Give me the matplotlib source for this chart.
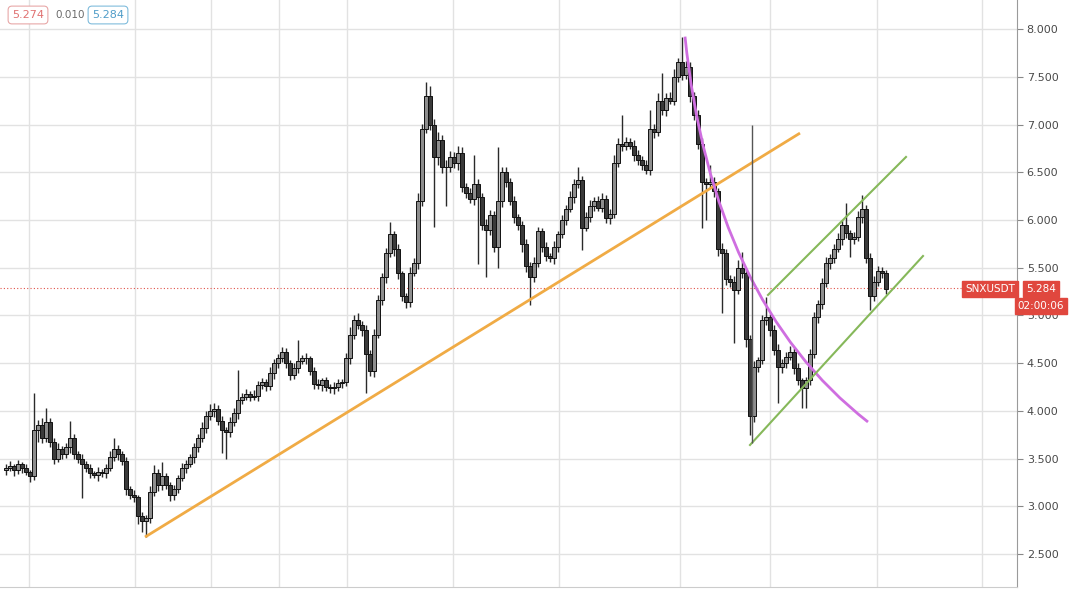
import matplotlib
matplotlib.use('Agg')
import matplotlib.pyplot as plt
import numpy as np
from matplotlib.path import Path
from matplotlib.patches import PathPatch

# цены закрытия свечей (SNXUSDT), слева направо
close = [
    3.40, 3.42, 3.38, 3.44, 3.40, 3.36, 3.32, 3.80, 3.85, 3.72,
    3.88, 3.68, 3.50, 3.60, 3.55, 3.62, 3.72, 3.55, 3.50, 3.45,
    3.40, 3.35, 3.33, 3.36, 3.35, 3.40, 3.52, 3.60, 3.55, 3.48,
    3.18, 3.12, 3.10, 2.90, 2.85, 2.88, 3.15, 3.35, 3.22, 3.32,
    3.22, 3.12, 3.18, 3.30, 3.40, 3.45, 3.52, 3.62, 3.72, 3.82,
    3.95, 4.00, 4.02, 3.90, 3.80, 3.78, 3.88, 3.98, 4.12, 4.15,
    4.18, 4.15, 4.16, 4.27, 4.30, 4.26, 4.40, 4.50, 4.55, 4.62,
    4.50, 4.38, 4.45, 4.52, 4.55, 4.55, 4.42, 4.28, 4.27, 4.32,
    4.25, 4.24, 4.25, 4.29, 4.30, 4.55, 4.80, 4.95, 4.90, 4.85,
    4.60, 4.42, 4.80, 5.16, 5.40, 5.65, 5.85, 5.70, 5.44, 5.20,
    5.14, 5.45, 5.55, 6.20, 6.95, 7.30, 7.00, 6.66, 6.84, 6.55,
    6.55, 6.66, 6.60, 6.70, 6.35, 6.28, 6.22, 6.38, 6.24, 5.95,
    5.90, 6.05, 5.72, 6.20, 6.50, 6.40, 6.20, 6.03, 5.95, 5.75,
    5.52, 5.40, 5.55, 5.88, 5.72, 5.62, 5.60, 5.72, 5.85, 6.00,
    6.12, 6.24, 6.38, 6.42, 5.92, 6.03, 6.15, 6.20, 6.13, 6.22,
    6.02, 6.06, 6.60, 6.80, 6.78, 6.82, 6.78, 6.68, 6.63, 6.58,
    6.52, 6.95, 6.92, 7.25, 7.15, 7.28, 7.25, 7.50, 7.65, 7.52,
    7.60, 7.30, 7.10, 6.80, 6.40, 6.38, 6.40, 6.30, 5.70, 5.65,
    5.38, 5.35, 5.27, 5.50, 5.45, 4.75, 3.95, 4.46, 4.53, 4.95,
    4.98, 4.85, 4.64, 4.46, 4.50, 4.57, 4.62, 4.45, 4.32, 4.24,
    4.32, 4.60, 4.98, 5.12, 5.34, 5.55, 5.60, 5.70, 5.80, 5.95,
    5.86, 5.80, 5.82, 6.03, 6.12, 5.60, 5.20, 5.35, 5.47, 5.45,
    5.28,
]
first_open = 3.38

# верхние и нижние тени, в сотых
wick_up = [
    4, 6, 3, 5, 3, 4, 2, 39, 6, 8,
    15, 5, 4, 6, 3, 5, 18, 4, 3, 5,
    3, 4, 2, 5, 3, 4, 6, 12, 4, 3,
    4, 3, 5, 2, 4, 3, 6, 8, 4, 15,
    3, 4, 5, 3, 6, 4, 3, 5, 4, 6,
    5, 7, 6, 4, 5, 3, 6, 5, 31, 4,
    5, 3, 6, 4, 5, 3, 6, 4, 5, 5,
    4, 3, 5, 22, 4, 6, 3, 4, 5, 3,
    4, 3, 5, 4, 3, 6, 8, 5, 8, 4,
    5, 4, 6, 5, 4, 6, 13, 4, 5, 3,
    4, 6, 5, 8, 6, 15, 10, 6, 8, 5,
    8, 6, 5, 7, 6, 4, 5, 30, 5, 4,
    6, 5, 4, 56, 5, 6, 4, 5, 3, 4,
    5, 4, 6, 5, 4, 5, 3, 6, 4, 5,
    4, 6, 5, 13, 4, 5, 6, 4, 5, 6,
    4, 5, 8, 6, 30, 5, 4, 6, 5, 4,
    5, 20, 6, 8, 29, 5, 6, 8, 5, 27,
    6, 5, 4, 5, 6, 4, 18, 5, 4, 6,
    5, 4, 6, 8, 16, 4, 5, 6, 4, 5,
    21, 4, 5, 6, 4, 5, 6, 4, 5, 3,
    4, 5, 6, 4, 5, 6, 4, 5, 6, 5,
    23, 4, 5, 6, 14, 4, 5, 6, 5, 4,
    3,
]
wick_dn = [
    5, 3, 6, 4, 5, 3, 6, 4, 12, 5,
    4, 6, 5, 3, 5, 4, 6, 5, 4, 36,
    4, 5, 3, 6, 4, 5, 3, 4, 6, 5,
    6, 4, 5, 8, 12, 17, 5, 4, 6, 5,
    4, 6, 5, 4, 3, 5, 4, 6, 5, 4,
    5, 4, 6, 5, 24, 28, 5, 4, 6, 5,
    4, 5, 3, 6, 4, 5, 4, 6, 5, 4,
    5, 6, 4, 5, 3, 6, 4, 5, 4, 6,
    4, 5, 6, 4, 5, 4, 6, 5, 4, 6,
    41, 5, 6, 4, 5, 6, 4, 8, 6, 5,
    6, 5, 4, 6, 5, 4, 6, 73, 8, 6,
    40, 5, 6, 8, 6, 5, 4, 6, 70, 5,
    50, 6, 5, 22, 6, 5, 4, 6, 5, 8,
    6, 29, 5, 4, 6, 5, 4, 6, 5, 4,
    5, 4, 6, 5, 23, 4, 5, 6, 4, 5,
    5, 6, 4, 5, 6, 5, 4, 6, 5, 6,
    4, 5, 6, 4, 5, 6, 4, 5, 6, 5,
    4, 6, 5, 6, 48, 38, 5, 6, 8, 62,
    6, 5, 56, 5, 6, 8, 20, 6, 5, 4,
    5, 6, 5, 38, 6, 5, 4, 6, 5, 21,
    21, 5, 4, 6, 5, 4, 6, 5, 4, 6,
    5, 19, 5, 4, 6, 5, 14, 5, 4, 6,
    5,
]

price_ticks = [2.5, 3.0, 3.5, 4.0, 4.5, 5.0, 5.5, 6.0, 6.5, 7.0, 7.5, 8.0]
grid_x = [5.75, 32.25, 51.25, 68.25, 85.25, 111.75, 138.25, 168.5, 191, 217.75, 244]
last_price = 5.284

# рисунки на графике (номер свечи, цена)
orange_x, orange_y = [34.75, 198.5], [2.68, 6.91]
curve_x, curve_y = [169.75, 176.5, 215.5], [7.92, 5.16, 3.885]
chan_up_x, chan_up_y = [190.5, 225.0], [5.215, 6.66]
chan_dn_x, chan_dn_y = [186.0, 229.25], [3.644, 5.623]
vline_x, vline_lo, vline_hi = 186.6, 3.66, 7.0

close = np.array(close)
opens = np.concatenate([[first_open], close[:-1]])
highs = np.maximum(opens, close) + np.array(wick_up) / 100
lows = np.minimum(opens, close) - np.array(wick_dn) / 100
xs = np.arange(len(close))

fig = plt.figure(figsize=(10.8, 5.89), dpi=100)
ax = fig.add_axes([0, 2 / 589, 1017 / 1080, 587 / 589])
ax.set_xlim(-1.5, 252.75)
ax.set_ylim(2.157, 8.3037)

# сетка
for g in grid_x:
    ax.axvline(g, color='#e2e2e2', lw=1, zorder=0)
for p in price_ticks:
    ax.axhline(p, color='#e2e2e2', lw=1, zorder=0)

# свечи
up = close >= opens
ax.vlines(xs, lows, highs, color='#2a2a2a', lw=1.0, zorder=2)
body_h = np.maximum(np.abs(close - opens), 0.01)
ax.bar(xs[up], body_h[up], bottom=np.minimum(opens, close)[up], width=0.8,
       color='#8e8e8e', edgecolor='#111111', linewidth=0.7, zorder=3)
ax.bar(xs[~up], body_h[~up], bottom=np.minimum(opens, close)[~up], width=0.8,
       color='#3a3a3a', edgecolor='#111111', linewidth=0.7, zorder=3)

# линии тренда
ax.plot(orange_x, orange_y, color='#f0ab45', lw=2, zorder=4, solid_capstyle='butt')
curve = Path(list(zip(curve_x, curve_y)), [Path.MOVETO, Path.CURVE3, Path.CURVE3])
ax.add_patch(PathPatch(curve, facecolor='none', edgecolor='#cf6ee0', lw=2, zorder=4))
ax.plot(chan_up_x, chan_up_y, color='#86b85a', lw=1.5, zorder=4)
ax.plot(chan_dn_x, chan_dn_y, color='#86b85a', lw=1.5, zorder=4)
ax.vlines(vline_x, vline_lo, vline_hi, color='#555555', lw=1, zorder=4)

# текущая цена
ax.plot([-1.5, 240], [last_price, last_price], color='#e0534a', lw=0.8,
        ls=(0, (1, 2)), zorder=1)

# ось цен справа
ax.yaxis.tick_right()
ax.set_yticks(price_ticks)
ax.set_yticklabels(['%.3f' % p for p in price_ticks])
ax.tick_params(axis='y', colors='#888888', labelcolor='#4a4a4a', labelsize=8,
               length=4, pad=3)
ax.set_xticks([])
for s in ['top', 'left']:
    ax.spines[s].set_visible(False)
ax.spines['right'].set_color('#9a9a9a')
ax.spines['bottom'].set_color('#cccccc')

# подписи в углу
box = dict(boxstyle='round,pad=0.35', facecolor='white', lw=0.8)
fig.text(28 / 1080, 1 - 15 / 589, '5.274', color='#e07070', fontsize=8, ha='center',
         va='center', bbox=dict(box, edgecolor='#e8a8a8'))
fig.text(70 / 1080, 1 - 15 / 589, '0.010', color='#6a6a6a', fontsize=7.5, ha='center',
         va='center')
fig.text(108 / 1080, 1 - 15 / 589, '5.284', color='#4f9cc8', fontsize=8, ha='center',
         va='center', bbox=dict(box, edgecolor='#80bcdc'))

# метки цены справа
red = dict(boxstyle='square,pad=0.3', facecolor='#e0473e', edgecolor='#e0473e')
fig.text(990 / 1080, 1 - 289 / 589, 'SNXUSDT', color='white', fontsize=7.5,
         ha='center', va='center', bbox=red, zorder=10)
fig.text(1041 / 1080, 1 - 289 / 589, '5.284', color='white', fontsize=7.5,
         ha='center', va='center', bbox=red, zorder=10)
fig.text(1041 / 1080, 1 - 306 / 589, '02:00:06', color='white', fontsize=7.5,
         ha='center', va='center', bbox=red, zorder=10)

fig.savefig('out.png', dpi=100, facecolor='white')
